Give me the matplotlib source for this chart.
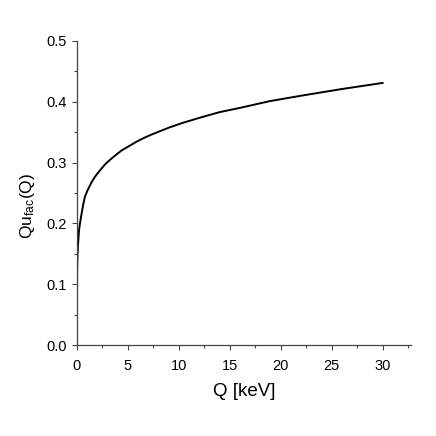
import numpy as np
import matplotlib
matplotlib.use('Agg')
import matplotlib.pyplot as plt
from matplotlib.ticker import MultipleLocator, FormatStrFormatter

# values
q_kev = [0, 0.005, 0.02, 0.05, 0.1, 0.2, 0.3, 0.46, 0.6, 0.78, 1.0, 1.2,
         1.44, 1.7, 2.0, 2.4, 2.75, 3.2, 3.7, 4.38, 5.0, 5.8, 6.5, 7.3, 8.2,
         9.1, 10.5, 12.3, 14, 16, 18.9, 22, 26, 30]
qu_fac = [0, 0.100, 0.128, 0.148, 0.165, 0.189, 0.201, 0.217, 0.230, 0.244,
          0.253, 0.260, 0.268, 0.275, 0.282, 0.290, 0.297, 0.304, 0.311,
          0.320, 0.326, 0.334, 0.340, 0.346, 0.352, 0.358, 0.366, 0.375,
          0.383, 0.390, 0.401, 0.410, 0.421, 0.431]

plt.rcParams['font.family'] = ['Liberation Sans', 'DejaVu Sans']
plt.rcParams['mathtext.fontset'] = 'custom'
plt.rcParams['mathtext.rm'] = 'Liberation Sans'
plt.rcParams['mathtext.it'] = 'Liberation Sans'

fig = plt.figure(figsize=(4.36, 4.36), dpi=100)
ax = fig.add_axes([0.1766, 0.2087, 0.7664, 0.6973])

ax.plot(q_kev, qu_fac, color='black', linewidth=1.4)

ax.set_xlim(0, 32.8)
ax.set_ylim(0, 0.5)
ax.xaxis.set_major_locator(MultipleLocator(5))
ax.xaxis.set_minor_locator(MultipleLocator(2.5))
ax.yaxis.set_major_locator(MultipleLocator(0.1))
ax.yaxis.set_minor_locator(MultipleLocator(0.05))
ax.yaxis.set_major_formatter(FormatStrFormatter('%.1f'))

for side in ['top', 'right']:
    ax.spines[side].set_visible(False)
for side in ['left', 'bottom']:
    ax.spines[side].set_color('#444444')
    ax.spines[side].set_linewidth(0.9)

ax.tick_params(which='major', direction='out', length=3.6, width=0.8,
               color='#444444', labelsize=10.5)
ax.tick_params(axis='x', which='major', pad=6.5)
ax.tick_params(axis='y', which='major', pad=4)
ax.tick_params(which='minor', direction='out', length=2.5, width=0.8,
               color='#444444')

ax.set_xlabel('Q [keV]', fontsize=13.5, labelpad=7)
ax.set_ylabel(r'Qu$_{\mathrm{fac}}$(Q)', fontsize=12.5)
ax.yaxis.set_label_coords(-0.12, 0.457)

fig.savefig('out.png', dpi=100)
